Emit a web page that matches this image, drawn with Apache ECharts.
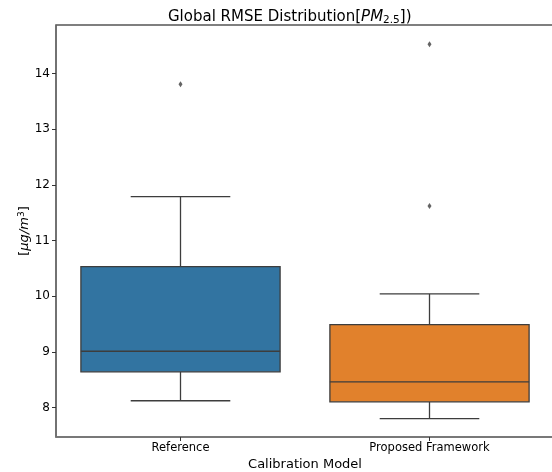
<!DOCTYPE html>
<html>
<head>
<meta charset="utf-8">
<script src="https://cdn.jsdelivr.net/npm/echarts@6/dist/echarts.min.js"></script>
<style>html,body{margin:0;padding:0;background:#fff}#c{width:552px;height:472px}</style>
</head>
<body>
<div id="c"></div>
<script>
// Data
const categories = ['Reference', 'Proposed Framework'];
const whiskerLow = [8.12, 7.80];
const q1 = [8.64, 8.10];
const median = [9.01, 8.46];
const q3 = [10.53, 9.49];
const whiskerHigh = [11.79, 10.04];
const outlierCat = [0, 1, 1];
const outlierVal = [13.81, 14.53, 11.62];
const yTicks = [8, 9, 10, 11, 12, 13, 14];
const boxColors = ['#3274a1', '#e1812c'];

const lineColor = '#3d3d3d';
const FONT = 'DejaVu Sans';

const boxData = categories.map((c, i) => [i, whiskerLow[i], q1[i], median[i], q3[i], whiskerHigh[i]]);
const outData = outlierVal.map((v, i) => [outlierCat[i], v]);

function renderBox(params, api) {
  const i = api.value(0);
  const band = api.size([1, 0])[0];
  const bw = band * 0.8, cw = band * 0.4;
  const pLow = api.coord([i, api.value(1)]);
  const pQ1 = api.coord([i, api.value(2)]);
  const pMed = api.coord([i, api.value(3)]);
  const pQ3 = api.coord([i, api.value(4)]);
  const pHigh = api.coord([i, api.value(5)]);
  const x = pQ1[0];
  const ls = { stroke: lineColor, lineWidth: 1.3 };
  return {
    type: 'group',
    children: [
      { type: 'line', shape: { x1: x, y1: pQ3[1], x2: x, y2: pHigh[1] }, style: ls },
      { type: 'line', shape: { x1: x, y1: pQ1[1], x2: x, y2: pLow[1] }, style: ls },
      { type: 'line', shape: { x1: x - cw / 2, y1: pHigh[1], x2: x + cw / 2, y2: pHigh[1] }, style: ls },
      { type: 'line', shape: { x1: x - cw / 2, y1: pLow[1], x2: x + cw / 2, y2: pLow[1] }, style: ls },
      { type: 'rect', shape: { x: x - bw / 2, y: pQ3[1], width: bw, height: pQ1[1] - pQ3[1] },
        style: { fill: boxColors[i], stroke: lineColor, lineWidth: 1.3 } },
      { type: 'line', shape: { x1: x - bw / 2, y1: pMed[1], x2: x + bw / 2, y2: pMed[1] }, style: ls }
    ]
  };
}

const chart = echarts.init(document.getElementById('c'), null, { renderer: 'canvas' });
chart.setOption({
  animation: false,
  backgroundColor: '#fff',
  textStyle: { fontFamily: FONT },
  title: {
    text: 'Global RMSE Distribution[{i|PM}{s|2.5}])',
    left: 163, top: 4,
    textStyle: {
      fontFamily: FONT, fontSize: 15, fontWeight: 'normal', color: '#000',
      rich: {
        i: { fontFamily: FONT, fontStyle: 'italic', fontSize: 15, color: '#000' },
        s: { fontFamily: FONT, fontSize: 10.5, color: '#000', verticalAlign: 'bottom', padding: [6, 0, 0, 0] }
      }
    }
  },
  grid: { left: 56, top: 25, width: 498, height: 412, show: true, borderColor: '#000', borderWidth: 1.2,
          containLabel: false, outerBoundsMode: 'none' },
  xAxis: {
    type: 'category',
    data: categories,
    boundaryGap: true,
    name: 'Calibration Model',
    nameLocation: 'middle',
    nameGap: 21,
    nameMoveOverlap: false,
    nameTextStyle: { fontFamily: FONT, fontSize: 13, color: '#000' },
    axisLine: { show: true, lineStyle: { color: '#777', width: 1.5 } },
    axisTick: { show: true, alignWithLabel: true, length: 4, lineStyle: { color: '#333' } },
    axisLabel: { fontFamily: FONT, fontSize: 11.5, color: '#000', margin: 5 },
    splitLine: { show: false }
  },
  yAxis: {
    type: 'value',
    min: 7.468,
    max: 14.875,
    name: '[{i|μg/m}{s|3}]',
    nameLocation: 'middle',
    nameGap: 24,
    nameRotate: 90,
    nameMoveOverlap: false,
    nameTextStyle: {
      fontFamily: FONT, fontSize: 13, color: '#000',
      rich: {
        i: { fontFamily: FONT, fontStyle: 'italic', fontSize: 13, color: '#000' },
        s: { fontFamily: FONT, fontSize: 9, color: '#000', verticalAlign: 'top', padding: [0, 0, 6, 0] }
      }
    },
    axisLine: { show: true, lineStyle: { color: '#777', width: 1.5 } },
    axisTick: { show: true, length: 4, customValues: yTicks, lineStyle: { color: '#333' } },
    axisLabel: { fontFamily: FONT, fontSize: 12, color: '#000', margin: 6, customValues: yTicks },
    splitLine: { show: false }
  },
  series: [
    {
      type: 'custom',
      renderItem: renderBox,
      data: boxData,
      encode: { x: 0, y: [1, 2, 3, 4, 5] },
      z: 2
    },
    {
      type: 'scatter',
      data: outData,
      symbol: 'diamond',
      symbolSize: [4, 6],
      itemStyle: { color: lineColor },
      z: 3
    }
  ]
});
</script>
</body>
</html>
